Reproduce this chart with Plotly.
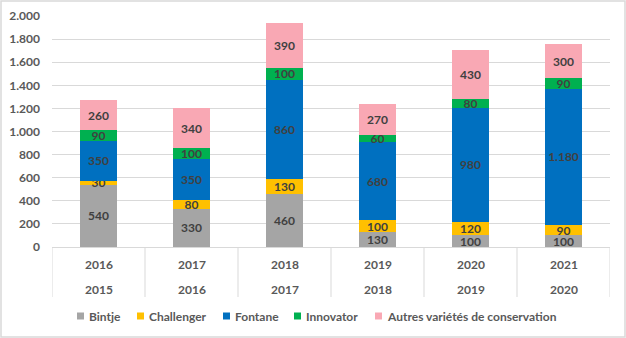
import plotly.graph_objects as go

# Harvest years (upper row) and previous-season years (lower row)
years_top = ["2016", "2017", "2018", "2019", "2020", "2021"]
years_bottom = ["2015", "2016", "2017", "2018", "2019", "2020"]

bintje = [540, 330, 460, 130, 100, 100]
challenger = [30, 80, 130, 100, 120, 90]
fontane = [350, 350, 860, 680, 980, 1180]
innovator = [90, 100, 100, 60, 80, 90]
autres = [260, 340, 390, 270, 430, 300]

series_names = ["Bintje", "Challenger", "Fontane", "Innovator",
                "Autres variétés de conservation"]
series_values = [bintje, challenger, fontane, innovator, autres]
series_colors = ["#A5A5A5", "#FFC000", "#0070C0", "#00B050", "#F9A8B4"]

tick_vals = [0, 200, 400, 600, 800, 1000, 1200, 1400, 1600, 1800, 2000]

FONT = "Lato"
LABEL_COLOR = "#404040"
AXIS_COLOR = "#595959"
GRID_COLOR = "#D9D9D9"

W, H = 626, 338
L, R, T, B = 52, 16, 16, 91
PW, PH = W - L - R, H - T - B


def fmt(v):
    return f"{v:,}".replace(",", ".")


def px_x(px):
    """Pixel column -> paper x."""
    return (px - L) / PW


def px_y(py):
    """Pixel row -> paper y."""
    return (H - B - py) / PH


fig = go.Figure()
for name, vals, color in zip(series_names, series_values, series_colors):
    fig.add_trace(go.Bar(
        name=name,
        x=years_top,
        y=vals,
        marker=dict(color=color, line=dict(width=0)),
        text=[fmt(v) for v in vals],
        textposition="inside",
        insidetextanchor="middle",
        constraintext="none",
        textangle=0,
        textfont=dict(family=FONT, size=12, color=LABEL_COLOR, weight="bold"),
        hoverinfo="skip",
        showlegend=False,
    ))

fig.update_layout(
    barmode="stack",
    bargap=0.6,
    width=W,
    height=H,
    margin=dict(l=L, r=R, t=T, b=B, autoexpand=False),
    paper_bgcolor="white",
    plot_bgcolor="white",
    font=dict(family=FONT, size=12, color=AXIS_COLOR),
    showlegend=False,
    yaxis=dict(
        range=[0, 2000],
        tickvals=tick_vals,
        ticktext=[fmt(v) for v in tick_vals],
        showgrid=True,
        gridcolor=GRID_COLOR,
        gridwidth=1,
        zeroline=False,
        showline=False,
        ticks="",
        ticklabelstandoff=11,
        automargin=False,
        tickfont=dict(family=FONT, size=12, color=AXIS_COLOR, weight="bold"),
    ),
    xaxis=dict(
        type="category",
        range=[-0.5, len(years_top) - 0.5],
        automargin=False,
        showline=True,
        linecolor=GRID_COLOR,
        linewidth=1,
        showticklabels=False,
        ticks="",
    ),
)

label_font = dict(family=FONT, size=12, color=AXIS_COLOR, weight="bold")

# Two-row category labels (by category index) with vertical dividers
for i, (top, bottom) in enumerate(zip(years_top, years_bottom)):
    fig.add_annotation(x=i, y=px_y(264), xref="x", yref="paper",
                       text=top, showarrow=False, font=label_font,
                       xanchor="center", yanchor="middle")
    fig.add_annotation(x=i, y=px_y(289), xref="x", yref="paper",
                       text=bottom, showarrow=False, font=label_font,
                       xanchor="center", yanchor="middle")
for i in range(len(years_top) + 1):
    fig.add_shape(type="line", xref="x", yref="paper",
                  x0=i - 0.5, x1=i - 0.5, y0=0, y1=px_y(297),
                  line=dict(color=GRID_COLOR, width=1))

# Legend row along the bottom
legend_left = [77, 137, 223, 294, 375]
legend_row = 316
for name, color, left in zip(series_names, series_colors, legend_left):
    fig.add_shape(type="rect", xref="paper", yref="paper",
                  x0=px_x(left), x1=px_x(left + 7),
                  y0=px_y(legend_row + 3.5), y1=px_y(legend_row - 3.5),
                  line=dict(width=0), fillcolor=color)
    fig.add_annotation(x=px_x(left + 10), y=px_y(legend_row),
                       xref="paper", yref="paper", text=name,
                       showarrow=False, font=label_font,
                       xanchor="left", yanchor="middle")

# Light frame around the whole chart
fig.add_shape(
    type="rect", xref="paper", yref="paper",
    x0=px_x(1), x1=px_x(W - 1), y0=px_y(H - 1), y1=px_y(1),
    line=dict(color=GRID_COLOR, width=1.5),
    fillcolor="rgba(0,0,0,0)",
    layer="below",
)

fig.write_html("out.html")
